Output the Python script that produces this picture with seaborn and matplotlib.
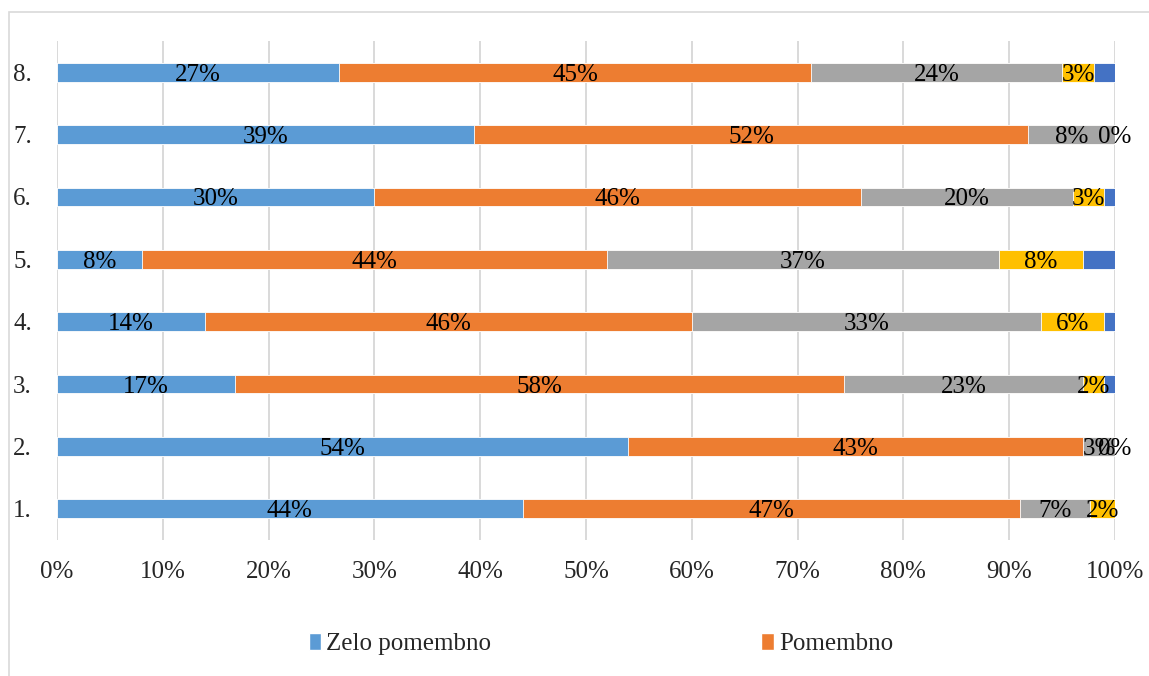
import numpy as np
import pandas as pd
import matplotlib
matplotlib.use("Agg")
import matplotlib.pyplot as plt
from matplotlib.patches import Rectangle, Patch
import seaborn as sns

# categories, bottom row is "1."
categories = ["1.", "2.", "3.", "4.", "5.", "6.", "7.", "8."]
series_names = ["Zelo pomembno", "Pomembno", "Srednje pomembno", "Malo pomembno", "Nepomembno"]

zelo_pomembno = [44.0, 54.0, 16.8, 14.0, 8.0, 30.0, 39.4, 26.7]
pomembno = [47.0, 43.0, 57.6, 46.0, 44.0, 46.0, 52.4, 44.6]
srednje = [6.6, 3.0, 22.6, 33.0, 37.0, 20.0, 8.2, 23.7]
malo = [2.4, 0.0, 2.0, 6.0, 8.0, 3.0, 0.0, 3.0]
nepomembno = [0.0, 0.0, 1.0, 1.0, 3.0, 1.0, 0.0, 2.0]

colors = ["#5B9BD5", "#ED7D31", "#A5A5A5", "#FFC000", "#4472C4"]
labelled = [True, True, True, True, False]

FONT = "Liberation Serif"
FS = 18


def main():
    sns.set_theme(style="white")
    plt.rcParams['font.family'] = [FONT, 'DejaVu Serif']

    df = pd.DataFrame({"cat": categories})
    values = [zelo_pomembno, pomembno, srednje, malo, nepomembno]
    cum = np.cumsum(np.array(values), axis=0)
    for i, name in enumerate(series_names):
        df[name] = cum[i]

    order = categories[::-1]

    fig = plt.figure(figsize=(11.49, 6.76), dpi=100)
    ax = fig.add_axes([0.0496, 0.2012, 0.9208, 0.7381])

    # draw cumulative totals from last series to first so they stack
    for i in range(len(series_names) - 1, -1, -1):
        sns.barplot(data=df, x=series_names[i], y="cat", order=order, color=colors[i],
                    saturation=1, width=0.3, edgecolor="white", linewidth=0.6, ax=ax, zorder=2)

    # data labels in the middle of each segment
    for i in range(len(series_names)):
        if not labelled[i]:
            continue
        for j, cat in enumerate(categories):
            v = values[i][j]
            start = cum[i][j] - v
            ypos = order.index(cat)
            ax.text(start + v / 2, ypos + 0.04, f"{int(v + 0.5)}%", ha="center", va="center",
                    fontsize=FS, family=FONT, color="black", zorder=3)

    ax.set_xlim(0, 100)
    ax.set_ylim(len(categories) - 0.5, -0.5)
    ax.set_xticks(np.arange(0, 101, 10))
    ax.set_xticklabels([f"{t}%" for t in range(0, 101, 10)], fontsize=FS, family=FONT)
    ax.set_yticks(range(len(order)))
    ax.set_yticklabels(order, fontsize=FS, family=FONT)
    ax.tick_params(axis="y", pad=18, length=0)
    ax.tick_params(axis="x", pad=15, length=0)
    ax.set_xlabel("")
    ax.set_ylabel("")
    ax.xaxis.grid(True, color="#D9D9D9", linewidth=1.4, zorder=0)
    ax.yaxis.grid(False)
    ax.set_axisbelow(True)
    for s in ax.spines.values():
        s.set_visible(False)

    # only first two legend entries are visible in the original
    handles = [Patch(facecolor=colors[0]), Patch(facecolor=colors[1])]
    fig.legend(handles, series_names[:2], loc="center", bbox_to_anchor=(0.523, 0.047),
               ncol=2, frameon=False, prop={"family": FONT, "size": FS},
               handlelength=0.5, handleheight=0.65, handletextpad=0.2, columnspacing=10.8)

    # chart area border (cut off on the right and bottom)
    fig.patches.append(Rectangle((9 / 1149, -0.5), 2.0, 1.5 - 12 / 676, transform=fig.transFigure,
                                 fill=False, edgecolor="#D9D9D9", linewidth=1.2))

    fig.savefig("out.png", dpi=100)
    plt.close(fig)


if __name__ == "__main__":
    main()
